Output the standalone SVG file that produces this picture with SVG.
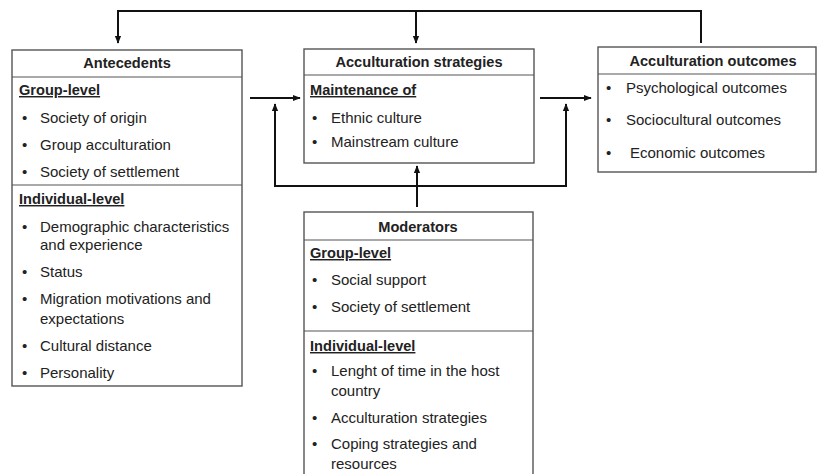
<svg xmlns="http://www.w3.org/2000/svg" width="818" height="474" viewBox="0 0 818 474">
<defs>
<marker id="ah" viewBox="0 0 10 10" refX="9" refY="5" markerWidth="4" markerHeight="4" orient="auto-start-reverse" markerUnits="strokeWidth">
<path d="M0,1 L10,5 L0,9 Z" fill="#111"/>
</marker>
<style>
.box{fill:#fff;stroke:#555;stroke-width:1.4}
.div{stroke:#555;stroke-width:1.2}
.t{font-family:"Liberation Sans",Arial,sans-serif;font-size:15px;fill:#222}
.b{font-weight:bold;font-size:14.6px}
.u{text-decoration:underline}
.c{text-anchor:middle}
.con{fill:none;stroke:#111;stroke-width:2}
</style>
</defs>
<rect width="818" height="474" fill="#fff"/>

<g id="connectors">
<path class="con" d="M701,43 V11 H118 V43" marker-end="url(#ah)"/>
<path class="con" d="M416,11 V43" marker-end="url(#ah)"/>
<path class="con" d="M250,98 H300" marker-end="url(#ah)"/>
<path class="con" d="M540,98 H591" marker-end="url(#ah)"/>
<path class="con" d="M275,186 V104" marker-end="url(#ah)"/>
<path class="con" d="M566,186 V104" marker-end="url(#ah)"/>
<path class="con" d="M274,186 H567"/>
<path class="con" d="M417,207 V166" marker-end="url(#ah)"/>
</g>

<g id="antecedents">
<rect class="box" x="12" y="50" width="230" height="336"/>
<line class="div" x1="12" y1="77" x2="242" y2="77"/>
<line class="div" x1="12" y1="185" x2="242" y2="185"/>
<text class="t b c" x="127" y="68">Antecedents</text>
<text class="t b u" x="19" y="95">Group-level</text>
<g class="t">
<text x="22" y="123">•</text><text x="40" y="123">Society of origin</text>
<text x="22" y="150">•</text><text x="40" y="150">Group acculturation</text>
<text x="22" y="177">•</text><text x="40" y="177">Society of settlement</text>
</g>
<text class="t b u" x="19" y="204">Individual-level</text>
<g class="t">
<text x="22" y="232">•</text><text x="40" y="232">Demographic characteristics</text>
<text x="40" y="250">and experience</text>
<text x="22" y="277">•</text><text x="40" y="277">Status</text>
<text x="22" y="304">•</text><text x="40" y="304">Migration motivations and</text>
<text x="40" y="324">expectations</text>
<text x="22" y="351">•</text><text x="40" y="351">Cultural distance</text>
<text x="22" y="378">•</text><text x="40" y="378">Personality</text>
</g>
</g>

<g id="strategies">
<rect class="box" x="304" y="49" width="230" height="114"/>
<line class="div" x1="304" y1="75" x2="534" y2="75"/>
<text class="t b c" x="419" y="67">Acculturation strategies</text>
<text class="t b u" x="310" y="95">Maintenance of</text>
<g class="t">
<text x="312" y="123">•</text><text x="331" y="123">Ethnic culture</text>
<text x="312" y="147">•</text><text x="331" y="147">Mainstream culture</text>
</g>
</g>

<g id="outcomes">
<rect class="box" x="598" y="47" width="218" height="125"/>
<line class="div" x1="598" y1="74" x2="816" y2="74"/>
<text class="t b c" x="713" y="66">Acculturation outcomes</text>
<g class="t">
<text x="606" y="93">•</text><text x="626" y="93">Psychological outcomes</text>
<text x="606" y="125">•</text><text x="626" y="125">Sociocultural outcomes</text>
<text x="606" y="158">•</text><text x="630" y="158">Economic outcomes</text>
</g>
</g>

<g id="moderators">
<rect class="box" x="304" y="212" width="229" height="270"/>
<line class="div" x1="304" y1="240" x2="533" y2="240"/>
<line class="div" x1="304" y1="331" x2="533" y2="331"/>
<text class="t b c" x="418" y="232">Moderators</text>
<text class="t b u" x="310" y="258">Group-level</text>
<g class="t">
<text x="312" y="285">•</text><text x="331" y="285">Social support</text>
<text x="312" y="312">•</text><text x="331" y="312">Society of settlement</text>
</g>
<text class="t b u" x="310" y="351">Individual-level</text>
<g class="t">
<text x="312" y="376">•</text><text x="331" y="376">Lenght of time in the host</text>
<text x="331" y="396">country</text>
<text x="312" y="423">•</text><text x="331" y="423">Acculturation strategies</text>
<text x="312" y="449">•</text><text x="331" y="449">Coping strategies and</text>
<text x="331" y="469">resources</text>
</g>
</g>
</svg>
